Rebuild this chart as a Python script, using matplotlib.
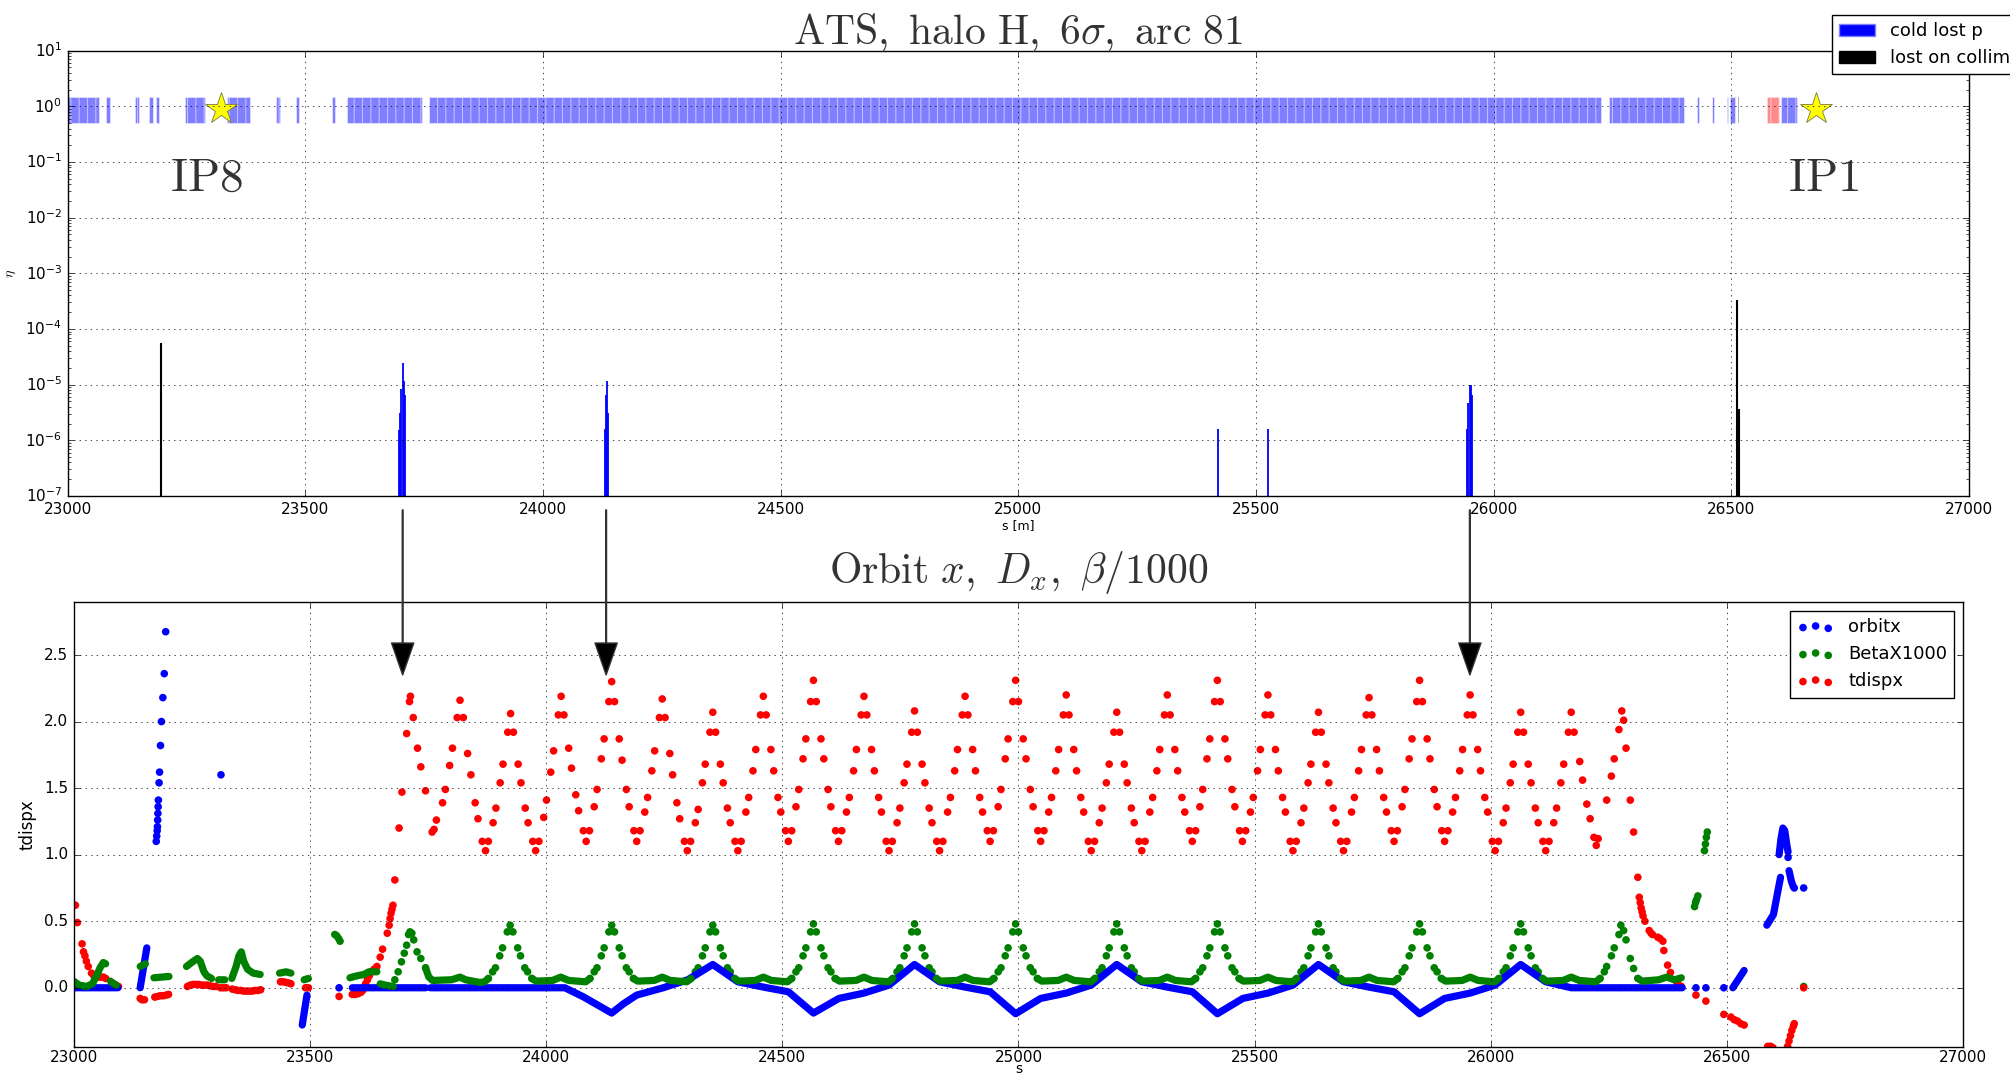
import numpy as np
import matplotlib
matplotlib.use('Agg')
import matplotlib.pyplot as plt
from matplotlib.patches import Patch
from matplotlib.transforms import blended_transform_factory

nan = np.nan

# ---------------- top panel: loss map ----------------
mag_start = [23000, 23081, 23142, 23172, 23186, 23247, 23336, 23438, 23481, 23556,
             23588, 23761, 26242, 26428, 26459, 26490, 26498, 26605]
mag_end = [23066, 23090, 23150, 23180, 23193, 23289, 23383, 23447, 23486, 23562,
           23745, 26225, 26400, 26432, 26463, 26494, 26508, 26638]
warm_start = [26576]
warm_end = [26600]
grey_elem = [26514]

ip_s = [23322, 26678]
ip_y = [0.9, 0.9]
ip_names = ['IP8', 'IP1']
ip_text_s = [23293, 26695]

cold_s = [23698, 23700, 23702, 23705, 23707, 23709, 24131, 24133, 24135, 24137,
          25420, 25525, 25944, 25947, 25950, 25952, 25955]
cold_eta = [1.55e-6, 3.1e-6, 8.3e-6, 2.45e-5, 1.17e-5, 6.5e-6, 1.6e-6, 6.5e-6, 1.17e-5, 3.1e-6,
            1.6e-6, 1.6e-6, 1.6e-6, 4.7e-6, 1.0e-5, 1.0e-5, 6.5e-6]
coll_s = [23197, 26513, 26517]
coll_eta = [5.5e-5, 3.3e-4, 3.6e-6]

arrow_s = [23705, 24133, 25950]

# ---------------- bottom panel: optics ----------------
# orbit x: dense stretches (drawn as thick trace) and isolated points
orbit_line_s = [23000, 23094, nan, 23141, 23155, nan, 23484, 23494, nan, 23590, 23745, nan,
                23755, 24040, 24080, 24139, 24164, 24192, 24248, 24300, 24353,
                24406, 24460, 24513, 24566, 24620, 24673, 24726, 24780,
                24833, 24887, 24940, 24994, 25047, 25101, 25154, 25208,
                25261, 25315, 25368, 25421, 25475, 25528, 25581, 25635,
                25688, 25742, 25795, 25849, 25902, 25956, 26009, 26063,
                26116, 26170, 26405, nan, 26512, 26536, nan,
                26584, 26598, 26606, 26613, nan, 26610, 26614, 26618, 26622, 26626, 26629, nan,
                26631, 26636, 26640]
orbit_line_x = [0, 0, nan, 0.0, 0.30, nan, -0.28, -0.055, nan, 0, 0, nan,
                0, 0, -0.07, -0.19, -0.12, -0.055, 0.0, 0.06, 0.175,
                0.045, 0.005, -0.03, -0.19, -0.08, -0.04, 0.02, 0.175,
                0.045, 0.005, -0.03, -0.195, -0.08, -0.04, 0.02, 0.175,
                0.045, 0.005, -0.03, -0.195, -0.08, -0.04, 0.02, 0.175,
                0.045, 0.005, -0.03, -0.195, -0.08, -0.04, 0.02, 0.175,
                0.045, 0.0, 0.0, nan, 0.0, 0.13, nan,
                0.47, 0.55, 0.70, 0.83, nan, 1.0, 1.12, 1.20, 1.18, 1.08, 1.02, nan,
                0.88, 0.80, 0.76]
orbit_s = [23175, 23176, 23177, 23177.5, 23178, 23178.5, 23179, 23179.5, 23181, 23182,
           23184, 23186, 23189, 23192, 23195, 23312, 23562, 26434, 26455, 26493,
           26629, 26642, 26662]
orbit_x = [1.10, 1.14, 1.18, 1.21, 1.26, 1.31, 1.36, 1.41, 1.54, 1.62,
           1.82, 2.00, 2.18, 2.36, 2.675, 1.60, 0.0, 0.0, 0.0, 0.0,
           0.98, 0.75, 0.75]

# beta_x / 1000: flat dense stretches and peak points
beta_line_s = [23000, 23012, 23028, 23040, 23050, 23056, 23063, 23068, nan,
               23078, 23085, 23090, nan, 23141, 23152, nan, 23170, 23186, 23202, nan,
               23239, 23250, 23262, 23268, 23276, 23282, 23292, nan, 23307, 23320, nan,
               23335, 23344, 23350, 23355, 23360, 23368, 23380, 23395, nan,
               23436, 23450, 23460, nan, 23488, 23497, nan,
               23585, 23600, 23615, 23625, 23642, nan, 23649, 23660, 23677, nan,
               23745, 23752, 23760, 23800, 23818, 23830, 23860, 23870, 23878, nan,
               23970, 23979, 24014, 24031, 24048, 24084, 24093, nan,
               24185, 24194, 24229, 24246, 24263, 24298, 24307, nan,
               24399, 24408, 24443, 24460, 24477, 24511, 24520, nan,
               24612, 24621, 24656, 24673, 24690, 24725, 24734, nan,
               24826, 24835, 24870, 24887, 24904, 24939, 24948, nan,
               25040, 25049, 25084, 25101, 25118, 25153, 25162, nan,
               25254, 25263, 25298, 25315, 25332, 25366, 25375, nan,
               25467, 25476, 25511, 25528, 25545, 25580, 25589, nan,
               25681, 25690, 25725, 25742, 25759, 25794, 25803, nan,
               25895, 25904, 25939, 25956, 25973, 26008, 26017, nan,
               26109, 26118, 26153, 26170, 26187, 26222, 26231, nan,
               26311, 26320, 26355, 26372, 26389, 26403]
beta_line_y = [0.05, 0.02, 0.01, 0.03, 0.10, 0.15, 0.19, 0.18, nan,
               0.05, 0.03, 0.02, nan, 0.16, 0.18, nan, 0.075, 0.08, 0.085, nan,
               0.16, 0.19, 0.22, 0.20, 0.12, 0.09, 0.07, nan, 0.06, 0.06, nan,
               0.07, 0.16, 0.24, 0.27, 0.20, 0.14, 0.11, 0.10, nan,
               0.11, 0.12, 0.11, nan, 0.06, 0.07, nan,
               0.075, 0.09, 0.10, 0.12, 0.12, nan, 0.03, 0.02, 0.01, nan,
               0.15, 0.08, 0.055, 0.06, 0.08, 0.06, 0.04, 0.045, 0.07, nan,
               0.07, 0.05, 0.055, 0.08, 0.055, 0.045, 0.07, nan,
               0.07, 0.05, 0.055, 0.08, 0.055, 0.045, 0.07, nan,
               0.07, 0.05, 0.055, 0.08, 0.055, 0.045, 0.07, nan,
               0.07, 0.05, 0.055, 0.08, 0.055, 0.045, 0.07, nan,
               0.07, 0.05, 0.055, 0.08, 0.055, 0.045, 0.07, nan,
               0.07, 0.05, 0.055, 0.08, 0.055, 0.045, 0.07, nan,
               0.07, 0.05, 0.055, 0.08, 0.055, 0.045, 0.07, nan,
               0.07, 0.05, 0.055, 0.08, 0.055, 0.045, 0.07, nan,
               0.07, 0.05, 0.055, 0.08, 0.055, 0.045, 0.07, nan,
               0.07, 0.05, 0.055, 0.08, 0.055, 0.045, 0.07, nan,
               0.07, 0.05, 0.055, 0.08, 0.055, 0.045, 0.07, nan,
               0.07, 0.05, 0.06, 0.08, 0.06, 0.075]
beta_s = [23553, 23557, 23561, 23564,
          23680, 23687, 23694, 23700, 23705, 23709, 23712, 23716, 23720, 23727, 23735, 23745,
          23878, 23887, 23893, 23902, 23908, 23918, 23924, 23930, 23940, 23946, 23955, 23961, 23970,
          24093, 24102, 24108, 24117, 24123, 24133, 24139, 24145, 24155, 24161, 24170, 24176, 24185,
          24307, 24316, 24322, 24331, 24337, 24347, 24353, 24359, 24369, 24375, 24384, 24390, 24399,
          24520, 24529, 24535, 24544, 24550, 24560, 24566, 24572, 24582, 24588, 24597, 24603, 24612,
          24734, 24743, 24749, 24758, 24764, 24774, 24780, 24786, 24796, 24802, 24811, 24817, 24826,
          24948, 24957, 24963, 24972, 24978, 24988, 24994, 25000, 25010, 25016, 25025, 25031, 25040,
          25162, 25171, 25177, 25186, 25192, 25202, 25208, 25214, 25224, 25230, 25239, 25245, 25254,
          25375, 25384, 25390, 25399, 25405, 25415, 25421, 25427, 25437, 25443, 25452, 25458, 25467,
          25589, 25598, 25604, 25613, 25619, 25629, 25635, 25641, 25651, 25657, 25666, 25672, 25681,
          25803, 25812, 25818, 25827, 25833, 25843, 25849, 25855, 25865, 25871, 25880, 25886, 25895,
          26017, 26026, 26032, 26041, 26047, 26057, 26063, 26069, 26079, 26085, 26094, 26100, 26109,
          26231, 26240, 26245, 26255, 26261, 26271, 26275, 26281, 26286, 26295, 26302, 26311,
          26431, 26433, 26435, 26438, 26452, 26454, 26456, 26458, 26662]
beta_y = [0.40, 0.39, 0.37, 0.35,
          0.06, 0.12, 0.195, 0.26, 0.32, 0.40, 0.42, 0.41, 0.36, 0.27, 0.22, 0.15,
          0.07, 0.12, 0.15, 0.24, 0.30, 0.42, 0.47, 0.42, 0.30, 0.24, 0.15, 0.12, 0.07,
          0.07, 0.12, 0.15, 0.24, 0.30, 0.42, 0.47, 0.42, 0.30, 0.24, 0.15, 0.12, 0.07,
          0.07, 0.12, 0.15, 0.24, 0.30, 0.42, 0.47, 0.42, 0.30, 0.24, 0.15, 0.12, 0.07,
          0.07, 0.12, 0.15, 0.24, 0.30, 0.42, 0.48, 0.42, 0.30, 0.24, 0.15, 0.12, 0.07,
          0.07, 0.12, 0.15, 0.24, 0.30, 0.42, 0.48, 0.42, 0.30, 0.24, 0.15, 0.12, 0.07,
          0.07, 0.12, 0.15, 0.24, 0.30, 0.42, 0.48, 0.42, 0.30, 0.24, 0.15, 0.12, 0.07,
          0.07, 0.12, 0.15, 0.24, 0.30, 0.42, 0.48, 0.42, 0.30, 0.24, 0.15, 0.12, 0.07,
          0.07, 0.12, 0.15, 0.24, 0.30, 0.42, 0.48, 0.42, 0.30, 0.24, 0.15, 0.12, 0.07,
          0.07, 0.12, 0.15, 0.24, 0.30, 0.42, 0.48, 0.42, 0.30, 0.24, 0.15, 0.12, 0.07,
          0.07, 0.12, 0.15, 0.24, 0.30, 0.42, 0.48, 0.42, 0.30, 0.24, 0.15, 0.12, 0.07,
          0.07, 0.12, 0.15, 0.24, 0.30, 0.42, 0.48, 0.42, 0.30, 0.24, 0.15, 0.12, 0.07,
          0.07, 0.12, 0.16, 0.24, 0.30, 0.40, 0.47, 0.43, 0.36, 0.22, 0.145, 0.07,
          0.61, 0.64, 0.66, 0.69, 1.03, 1.08, 1.13, 1.17, 0.01]

# dispersion D_x
disp_s = [23004, 23008, 23018, 23021, 23024, 23027, 23031, 23038, 23043, 23048, 23053, 23058, 23063, 23068, 23085, 23090, 23095,
          23141, 23145, 23150, 23172, 23178, 23184, 23190, 23196, 23201,
          23241, 23247, 23253, 23259, 23265, 23271, 23277, 23283, 23289, 23295, 23301, 23311, 23317, 23323,
          23336, 23342, 23348, 23354, 23360, 23366, 23372, 23378, 23384, 23390, 23396,
          23438, 23444, 23450, 23456, 23460, 23491, 23497, 23562,
          23590, 23596, 23602, 23608, 23612, 23615, 23618, 23622, 23626, 23630, 23636, 23642,
          23649, 23654, 23664, 23668, 23670, 23672, 23674, 23676, 23680, 23689, 23695,
          23705, 23711, 23713, 23719, 23728, 23735, 23745, 23759, 23763, 23768,
          23781, 23787, 23796, 23802, 23812, 23818, 23825, 23834, 23841, 23850, 23856, 23865, 23872, 23878,
          23888, 23894, 23903, 23909, 23919, 23925, 23931, 23941, 23947, 23956, 23962, 23972, 23978, 23985,
          23995, 24001, 24010, 24016, 24026, 24032, 24038, 24048, 24054, 24063, 24069, 24079, 24085, 24092,
          24102, 24108, 24117, 24123, 24133, 24139, 24145, 24155, 24161, 24170, 24176, 24186, 24192, 24199,
          24209, 24215, 24224, 24230, 24240, 24246, 24252, 24262, 24268, 24277, 24283, 24293, 24299, 24306,
          24316, 24322, 24331, 24337, 24347, 24353, 24359, 24369, 24375, 24384, 24390, 24400, 24406, 24413,
          24423, 24429, 24438, 24444, 24454, 24460, 24466, 24476, 24482, 24491, 24497, 24507, 24513, 24520,
          24529, 24535, 24544, 24550, 24560, 24566, 24572, 24582, 24588, 24597, 24603, 24613, 24619, 24626,
          24636, 24642, 24651, 24657, 24667, 24673, 24679, 24689, 24695, 24704, 24710, 24720, 24726, 24733,
          24743, 24749, 24758, 24764, 24774, 24780, 24786, 24796, 24802, 24811, 24817, 24827, 24833, 24840,
          24850, 24856, 24865, 24871, 24881, 24887, 24893, 24903, 24909, 24918, 24924, 24934, 24940, 24947,
          24957, 24963, 24972, 24978, 24988, 24994, 25000, 25010, 25016, 25025, 25031, 25041, 25047, 25054,
          25064, 25070, 25079, 25085, 25095, 25101, 25107, 25117, 25123, 25132, 25138, 25148, 25154, 25161,
          25171, 25177, 25186, 25192, 25202, 25208, 25214, 25224, 25230, 25239, 25245, 25255, 25261, 25268,
          25278, 25284, 25293, 25299, 25309, 25315, 25321, 25331, 25337, 25346, 25352, 25362, 25368, 25375,
          25384, 25390, 25399, 25405, 25415, 25421, 25427, 25437, 25443, 25452, 25458, 25468, 25474, 25481,
          25491, 25497, 25506, 25512, 25522, 25528, 25534, 25544, 25550, 25559, 25565, 25575, 25581, 25588,
          25598, 25604, 25613, 25619, 25629, 25635, 25641, 25651, 25657, 25666, 25672, 25682, 25688, 25695,
          25705, 25711, 25720, 25726, 25736, 25742, 25748, 25758, 25764, 25773, 25779, 25789, 25795, 25802,
          25812, 25818, 25827, 25833, 25843, 25849, 25855, 25865, 25871, 25880, 25886, 25896, 25902, 25909,
          25919, 25925, 25934, 25940, 25950, 25956, 25962, 25972, 25978, 25987, 25993, 26003, 26009, 26016,
          26026, 26032, 26041, 26047, 26057, 26063, 26069, 26079, 26085, 26094, 26100, 26110, 26116, 26123,
          26133, 26139, 26148, 26154, 26164, 26170, 26176, 26188, 26194, 26203, 26210, 26218, 26223, 26227,
          26245, 26255, 26261, 26271, 26277, 26281, 26286, 26295, 26302, 26311,
          26314, 26316, 26318, 26320, 26322, 26326, 26335, 26339, 26342, 26353,
          26358, 26364, 26366, 26374, 26380, 26389, 26394, 26398, 26403, 26434,
          26455, 26493, 26508, 26515, 26522, 26529, 26536, 26586, 26592, 26597,
          26628, 26631, 26634, 26637, 26640, 26642, 26662]
disp_y = [0.62, 0.49, 0.33, 0.27, 0.24, 0.20, 0.16, 0.11, 0.09, 0.08, 0.08, 0.08, 0.08, 0.07, 0.03, 0.02, 0.01,
          -0.08, -0.09, -0.09, -0.07, -0.065, -0.06, -0.06, -0.055, -0.05,
          0.01, 0.02, 0.025, 0.025, 0.025, 0.02, 0.02, 0.02, 0.015, 0.01, 0.01, 0.0, 0.0, 0.0,
          -0.01, -0.015, -0.02, -0.02, -0.025, -0.025, -0.025, -0.025, -0.02, -0.02, -0.015,
          0.045, 0.045, 0.04, 0.035, 0.03, 0.0, 0.0, -0.065,
          -0.05, -0.05, -0.045, -0.035, -0.02, 0.0, 0.03, 0.06, 0.09, 0.12, 0.14, 0.16,
          0.23, 0.29, 0.41, 0.47, 0.52, 0.56, 0.59, 0.62, 0.81, 1.20, 1.47,
          1.91, 2.15, 2.19, 2.03, 1.80, 1.66, 1.48, 1.17, 1.19, 1.26,
          1.39, 1.49, 1.67, 1.80, 2.03, 2.16, 2.03, 1.76, 1.60, 1.39, 1.27, 1.10, 1.03, 1.10,
          1.24, 1.35, 1.54, 1.68, 1.92, 2.06, 1.92, 1.68, 1.54, 1.35, 1.24, 1.10, 1.03, 1.10,
          1.28, 1.41, 1.62, 1.78, 2.05, 2.19, 2.05, 1.80, 1.65, 1.45, 1.33, 1.18, 1.10, 1.18,
          1.36, 1.49, 1.72, 1.87, 2.15, 2.30, 2.15, 1.87, 1.71, 1.49, 1.36, 1.18, 1.10, 1.18,
          1.32, 1.43, 1.63, 1.78, 2.03, 2.17, 2.03, 1.76, 1.60, 1.39, 1.27, 1.10, 1.03, 1.10,
          1.24, 1.34, 1.54, 1.68, 1.92, 2.07, 1.92, 1.68, 1.54, 1.35, 1.24, 1.10, 1.03, 1.10,
          1.32, 1.43, 1.63, 1.79, 2.05, 2.19, 2.05, 1.79, 1.63, 1.43, 1.32, 1.18, 1.10, 1.18,
          1.36, 1.49, 1.72, 1.87, 2.15, 2.31, 2.15, 1.87, 1.72, 1.49, 1.36, 1.18, 1.10, 1.18,
          1.32, 1.43, 1.63, 1.79, 2.05, 2.19, 2.05, 1.79, 1.63, 1.43, 1.32, 1.10, 1.03, 1.10,
          1.24, 1.35, 1.54, 1.68, 1.92, 2.08, 1.92, 1.68, 1.54, 1.35, 1.24, 1.10, 1.03, 1.10,
          1.32, 1.43, 1.63, 1.79, 2.05, 2.19, 2.05, 1.79, 1.63, 1.43, 1.32, 1.18, 1.10, 1.18,
          1.36, 1.49, 1.72, 1.87, 2.15, 2.31, 2.15, 1.87, 1.72, 1.49, 1.36, 1.18, 1.10, 1.18,
          1.32, 1.43, 1.63, 1.79, 2.05, 2.20, 2.05, 1.79, 1.63, 1.43, 1.32, 1.10, 1.03, 1.10,
          1.24, 1.35, 1.54, 1.68, 1.92, 2.07, 1.92, 1.68, 1.54, 1.35, 1.24, 1.10, 1.03, 1.10,
          1.32, 1.43, 1.63, 1.79, 2.05, 2.20, 2.05, 1.79, 1.63, 1.43, 1.32, 1.18, 1.10, 1.18,
          1.36, 1.49, 1.72, 1.87, 2.15, 2.31, 2.15, 1.87, 1.72, 1.49, 1.36, 1.18, 1.10, 1.18,
          1.32, 1.43, 1.63, 1.79, 2.05, 2.20, 2.05, 1.79, 1.63, 1.43, 1.32, 1.10, 1.03, 1.10,
          1.24, 1.35, 1.54, 1.68, 1.92, 2.07, 1.92, 1.68, 1.54, 1.35, 1.24, 1.10, 1.03, 1.10,
          1.32, 1.43, 1.63, 1.79, 2.05, 2.18, 2.05, 1.79, 1.63, 1.43, 1.32, 1.18, 1.10, 1.18,
          1.36, 1.49, 1.72, 1.87, 2.15, 2.31, 2.15, 1.87, 1.72, 1.49, 1.36, 1.18, 1.10, 1.18,
          1.32, 1.43, 1.63, 1.79, 2.05, 2.20, 2.05, 1.79, 1.63, 1.43, 1.32, 1.10, 1.03, 1.10,
          1.24, 1.35, 1.54, 1.68, 1.92, 2.07, 1.92, 1.68, 1.54, 1.35, 1.24, 1.10, 1.03, 1.10,
          1.24, 1.35, 1.54, 1.68, 1.92, 2.07, 1.92, 1.70, 1.56, 1.38, 1.27, 1.13, 1.07, 1.12,
          1.41, 1.59, 1.72, 1.94, 2.08, 2.01, 1.80, 1.41, 1.17, 0.83,
          0.68, 0.64, 0.60, 0.57, 0.54, 0.50, 0.43, 0.41, 0.40, 0.38,
          0.37, 0.35, 0.28, 0.17, 0.115, 0.06, 0.04, 0.02, 0.01, -0.055,
          -0.10, -0.20, -0.22, -0.24, -0.25, -0.27, -0.28, -0.44, -0.44, -0.45,
          -0.44, -0.40, -0.36, -0.32, -0.29, -0.27, 0.0]

# ---------------- drawing ----------------
plt.style.use('classic')
plt.rcParams['mathtext.fontset'] = 'cm'
plt.rcParams['figure.facecolor'] = 'white'
plt.rcParams['savefig.facecolor'] = 'white'
plt.rcParams['xtick.labelsize'] = 11
plt.rcParams['ytick.labelsize'] = 11
plt.rcParams['hatch.linewidth'] = 0.8

fig = plt.figure(figsize=(20.1, 10.77), dpi=100)
ax1 = fig.add_axes([0.0336, 0.5395, 0.946, 0.4134])
ax2 = fig.add_axes([0.0366, 0.0281, 0.9402, 0.4129])

# top: magnet layout strip
ax1.bar(mag_start, 1.0, width=np.subtract(mag_end, mag_start), bottom=0.5, align='edge',
        color='blue', alpha=0.5, edgecolor='white', linewidth=0.6, hatch='||')
ax1.bar(warm_start, 1.0, width=np.subtract(warm_end, warm_start), bottom=0.5, align='edge',
        color='red', alpha=0.45, edgecolor='white', linewidth=0.4, hatch='||')
ax1.bar(grey_elem, 1.0, width=2, bottom=0.5, align='edge', color='grey', alpha=0.6, edgecolor='none')
ax1.plot(ip_s, ip_y, ls='none', marker='*', ms=24, mfc='yellow', mec='#777744', mew=0.6)
for s, name in zip(ip_text_s, ip_names):
    ax1.text(s, 0.03, r'$\mathrm{%s}$' % name, fontsize=34, ha='center', va='baseline', color='#333333')

# top: loss spikes
ax1.vlines(cold_s, 1e-7, cold_eta, color='blue', lw=1.3)
ax1.vlines(coll_s, 1e-7, coll_eta, color='black', lw=1.5)

ax1.set_yscale('log')
ax1.set_xlim(23000, 27000)
ax1.set_ylim(1e-7, 10)
ax1.grid(True)
ax1.set_xlabel('s [m]', fontsize=9, labelpad=2)
ax1.set_ylabel(r'$\eta$', fontsize=10)
ax1.set_title(r'$\mathrm{ATS,\ halo\ H,\ 6\sigma,\ arc\ 81}$', fontsize=30, color='#333333')
ax1.legend([Patch(facecolor='blue', edgecolor='#8080ff'), Patch(facecolor='black', edgecolor='black')],
           ['cold lost p', 'lost on collimators'], loc='upper left',
           bbox_to_anchor=(1832 / 2010, 1 - 15 / 1077), bbox_transform=fig.transFigure,
           borderaxespad=0, fontsize=13)

# bottom: optics functions
ax2.plot(orbit_line_s, orbit_line_x, color='blue', lw=5.2, solid_capstyle='round', solid_joinstyle='round')
ax2.scatter(orbit_s, orbit_x, s=30, color='blue', edgecolors='none', label='orbitx')
ax2.plot(beta_line_s, beta_line_y, color='green', lw=5.2, solid_capstyle='round', solid_joinstyle='round')
ax2.scatter(beta_s, beta_y, s=30, color='green', edgecolors='none', label='BetaX1000')
ax2.scatter(disp_s, disp_y, s=30, color='red', edgecolors='none', label='tdispx')

ax2.set_xlim(23000, 27000)
ax2.set_ylim(-0.443, 2.898)
ax2.grid(True)
ax2.tick_params(axis='x', pad=2)
ax2.set_xlabel('s', fontsize=10, labelpad=-2)
ax2.set_ylabel('tdispx', fontsize=12)
ax2.set_title(r'$\mathrm{Orbit}\ x,\ D_x,\ \beta/1000$', fontsize=30, color='#333333', pad=14)
ax2.legend(loc='upper right', scatterpoints=3, fontsize=13)

# arrows from loss spikes down to the optics panel
tip_tr = blended_transform_factory(ax1.transData, ax2.transData)
for s in arrow_s:
    ax2.annotate('', xy=(s, 2.35), xycoords=tip_tr, xytext=(s, 5.6e-8), textcoords=ax1.transData,
                 arrowprops=dict(facecolor='black', edgecolor='#333333', width=0.6,
                                 headwidth=16, headlength=23, shrink=0.0))

fig.savefig('out.png', dpi=100)
